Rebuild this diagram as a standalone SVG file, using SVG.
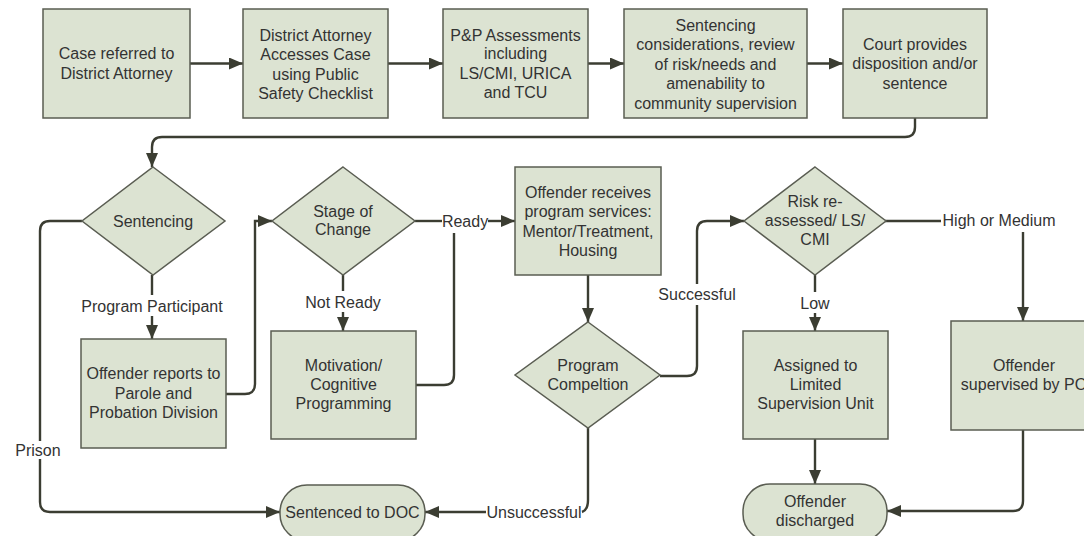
<svg xmlns="http://www.w3.org/2000/svg" width="1084" height="536" viewBox="0 0 1084 536">
<style>
.box{fill:#dce3d2;stroke:#5a5d52;stroke-width:1.5}
.t{font-family:"Liberation Sans",Arial,sans-serif;font-size:16px;fill:#333;text-anchor:middle}
.c{fill:none;stroke:#3b3d32;stroke-width:2.4}
.a{marker-end:url(#ah)}
</style>
<defs>
<marker id="ah" markerUnits="userSpaceOnUse" markerWidth="14" markerHeight="12" refX="14" refY="6" orient="auto">
<path d="M0,0 L14,6 L0,12 z" fill="#3b3d32"/>
</marker>
</defs>
<rect width="1084" height="536" fill="#fff"/>

<g id="connectors">
<path class="c a" d="M190,63.5 H243"/>
<path class="c a" d="M388,63.5 H443"/>
<path class="c a" d="M588,63.5 H624"/>
<path class="c a" d="M807,63.5 H843"/>
<path class="c a" d="M915,118 V127 Q915,137 905,137 H162 Q152,137 152,147 V167"/>
<path class="c" d="M82,221 H50 Q40,221 40,231 V441"/>
<path class="c a" d="M40,459 V502 Q40,512 50,512 H280"/>
<path class="c" d="M152,275 V295"/>
<path class="c a" d="M152,316 V339"/>
<path class="c a" d="M226,394 H245 Q255,394 255,384 V221 H272"/>
<path class="c" d="M343,275 V291"/>
<path class="c a" d="M343,312 V331"/>
<path class="c" d="M415,221 H442"/>
<path class="c a" d="M488,221 H515"/>
<path class="c" d="M416,385 H444 Q454,385 454,375 V233"/>
<path class="c a" d="M588,275 V322"/>
<path class="c" d="M660,376 H687 Q697,376 697,366 V305"/>
<path class="c a" d="M697,284 V231 Q697,221 707,221 H744"/>
<path class="c" d="M588,428 V500 Q588,510 582,512"/>
<path class="c a" d="M486,512 H425"/>
<path class="c" d="M815,275 V292"/>
<path class="c a" d="M815,313 V331"/>
<path class="c" d="M885,221 H941"/>
<path class="c a" d="M1023,232 V321"/>
<path class="c a" d="M815,439 V484"/>
<path class="c a" d="M1023,430 V501 Q1023,511 1013,511 H887"/>
<text class="t" x="152" y="311.5">Program Participant</text>
<text class="t" x="343" y="307.5">Not Ready</text>
<text class="t" x="465" y="226.5">Ready</text>
<text class="t" x="38" y="455.5">Prison</text>
<text class="t" x="697" y="299.5">Successful</text>
<text class="t" x="534" y="517.5">Unsuccessful</text>
<text class="t" x="815" y="308.5">Low</text>
<text class="t" x="999" y="225.5">High or Medium</text>
</g>

<g id="n1"><rect class="box" x="43" y="9" width="147" height="109"/>
<text class="t" x="116.5" y="59">Case referred to</text><text class="t" x="116.5" y="79">District Attorney</text></g>

<g id="n2"><rect class="box" x="243" y="9" width="145" height="109"/>
<text class="t" x="315.5" y="40.5">District Attorney</text><text class="t" x="315.5" y="60">Accesses Case</text><text class="t" x="315.5" y="79.5">using Public</text><text class="t" x="315.5" y="99">Safety Checklist</text></g>

<g id="n3"><rect class="box" x="443" y="9" width="145" height="109"/>
<text class="t" x="515.5" y="40.5">P&amp;P Assessments</text><text class="t" x="515.5" y="59">including</text><text class="t" x="515.5" y="78.5">LS/CMI, URICA</text><text class="t" x="515.5" y="98">and TCU</text></g>

<g id="n4"><rect class="box" x="624" y="9" width="183" height="109"/>
<text class="t" x="715.5" y="30.5">Sentencing</text><text class="t" x="715.5" y="50">considerations, review</text><text class="t" x="715.5" y="69.5">of risk/needs and</text><text class="t" x="715.5" y="89">amenability to</text><text class="t" x="715.5" y="108.5">community supervision</text></g>

<g id="n5"><rect class="box" x="843" y="9" width="144" height="109"/>
<text class="t" x="915" y="49.5">Court provides</text><text class="t" x="915" y="69">disposition and/or</text><text class="t" x="915" y="88.5">sentence</text></g>

<g id="d_sentencing"><polygon class="box" points="153,167 225,221 153,275 82,221"/>
<text class="t" x="153" y="226.5">Sentencing</text></g>

<g id="d_stage"><polygon class="box" points="343,167 415,221 343,275 272,221"/>
<text class="t" x="343" y="217">Stage of</text><text class="t" x="343" y="235">Change</text></g>

<g id="n_receives"><rect class="box" x="515" y="167" width="146" height="108"/>
<text class="t" x="588" y="197.5">Offender receives</text><text class="t" x="588" y="217">program services:</text><text class="t" x="588" y="236.5">Mentor/Treatment,</text><text class="t" x="588" y="255.5">Housing</text></g>

<g id="d_risk"><polygon class="box" points="815,167 886,221 815,275 744,221"/>
<text class="t" x="815" y="206.5">Risk re-</text><text class="t" x="815" y="225.5">assessed/ LS/</text><text class="t" x="815" y="244.5">CMI</text></g>

<g id="n_reports"><rect class="box" x="81" y="339" width="145" height="109"/>
<text class="t" x="153.5" y="378.5">Offender reports to</text><text class="t" x="153.5" y="398.5">Parole and</text><text class="t" x="153.5" y="417.5">Probation Division</text></g>

<g id="n_motivation"><rect class="box" x="271" y="331" width="145" height="108"/>
<text class="t" x="343.5" y="370.5">Motivation/</text><text class="t" x="343.5" y="389.5">Cognitive</text><text class="t" x="343.5" y="408.5">Programming</text></g>

<g id="d_completion"><polygon class="box" points="588,322 660,375 588,428 515,375"/>
<text class="t" x="588" y="370.5">Program</text><text class="t" x="588" y="389.5">Compeltion</text></g>

<g id="n_limited"><rect class="box" x="743" y="331" width="145" height="108"/>
<text class="t" x="815.5" y="370.5">Assigned to</text><text class="t" x="815.5" y="389.5">Limited</text><text class="t" x="815.5" y="408.5">Supervision Unit</text></g>

<g id="n_po"><rect class="box" x="951" y="321" width="146" height="109"/>
<text class="t" x="1024" y="370.5">Offender</text><text class="t" x="1024" y="389.5">supervised by PO</text></g>

<g id="t_doc"><rect class="box" x="280" y="485" width="145" height="56" rx="27" ry="27"/>
<text class="t" x="352.5" y="517.5">Sentenced to DOC</text></g>

<g id="t_discharged"><rect class="box" x="743" y="484" width="144" height="57" rx="27" ry="27"/>
<text class="t" x="815" y="506.5">Offender</text><text class="t" x="815" y="525.5">discharged</text></g>
</svg>
